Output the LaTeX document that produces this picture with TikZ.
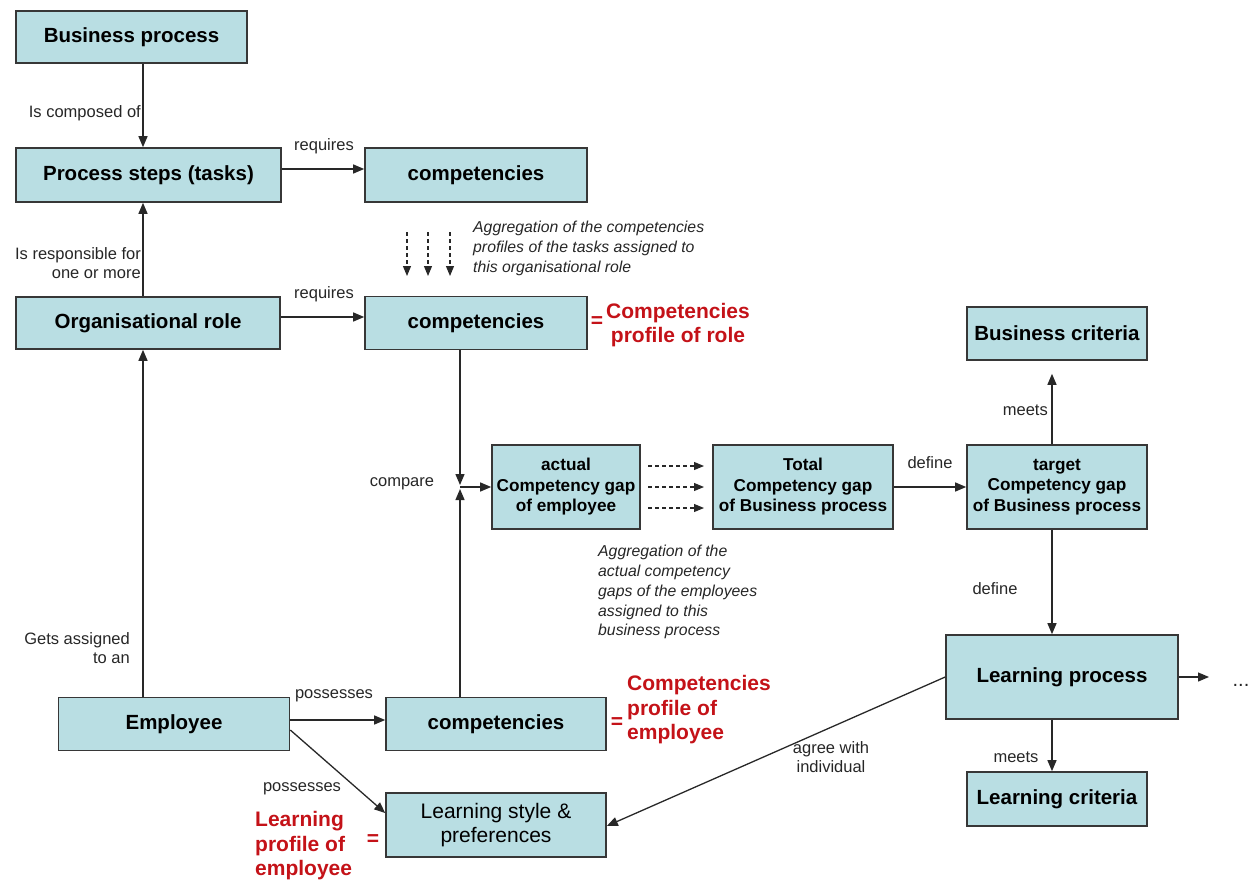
\documentclass[tikz,border=0pt]{standalone}
\usepackage{fontspec}
\setmainfont{Liberation Sans}
\usetikzlibrary{arrows.meta,calc}
\definecolor{boxfill}{RGB}{185,222,227}
\definecolor{boxline}{RGB}{55,55,55}
\definecolor{linecol}{RGB}{40,40,40}
\definecolor{redtxt}{RGB}{196,18,24}
\newcommand\myfs[2]{\fontsize{#1}{#2}\selectfont}
\begin{document}
\begin{tikzpicture}[x=1pt,y=-1pt,
  box/.style={draw=boxline, fill=boxfill, line width=1.6pt, inner sep=0pt, align=center, font=\myfs{20.5}{24}\bfseries, text=black},
  gapbox/.style={box, font=\myfs{17.2}{20.5}\bfseries, minimum width=180, minimum height=84},
  arr/.style={draw=linecol, line width=1.3pt, -{Triangle[length=11pt,width=9pt]}},
  darr/.style={draw=linecol, line width=1.1pt, dash pattern=on 4pt off 3pt, -{Triangle[length=10pt,width=8pt]}},
  lbl/.style={font=\myfs{16.5}{19.5}, text=black!85, inner sep=0pt},
  ital/.style={font=\myfs{15.8}{19.8}\itshape, inner sep=0pt, align=left, text=black!85},
  redlbl/.style={font=\myfs{21}{24.5}\bfseries, text=redtxt, inner sep=0pt}
]
\useasboundingbox (0,0) rectangle (1254,884);

% boxes
\node[box, minimum width=231, minimum height=52] (bp) at (131.5,37) {Business process};
\node[box, minimum width=265, minimum height=54] (ps) at (148.5,175) {Process steps (tasks)};
\node[box, minimum width=222, minimum height=54] (c1) at (476,175) {competencies};
\node[box, minimum width=264, minimum height=52] (orl) at (148,323) {Organisational role};
\node[box, minimum width=222, minimum height=53] (c2) at (476,323) {competencies};
\node[box, minimum width=180, minimum height=53] (bc) at (1057,333.5) {Business criteria};
\node[gapbox, minimum width=148] (act) at (566,487) {actual\\Competency gap\\of employee};
\node[gapbox] (tot) at (803,487) {Total\\Competency gap\\of Business process};
\node[gapbox] (tgt) at (1057,487) {target\\Competency gap\\of Business process};
\node[box, minimum width=232, minimum height=84] (lp) at (1062,677) {Learning process};
\node[box, minimum width=231, minimum height=53] (emp) at (174,724) {Employee};
\node[box, minimum width=220, minimum height=53] (c3) at (496,724) {competencies};
\node[box, minimum width=220, minimum height=64, font=\myfs{21}{24}] (ls) at (496,825) {Learning style \&\\preferences};
\node[box, minimum width=180, minimum height=54] (lc) at (1057,799) {Learning criteria};

% helper coordinates
\coordinate (xL) at (143,0);
\coordinate (xJ) at (460,0);
\coordinate (xR) at (1052,0);
\coordinate (y169) at (0,169);
\coordinate (y317) at (0,317);
\coordinate (y720) at (0,720);
\coordinate (y730) at (0,730);
\coordinate (y813) at (0,813);
\coordinate (y677) at (0,677);
\coordinate (y826) at (0,826);
\coordinate (junc) at (460,487);
\coordinate (dotsend) at (1209,677);

% left column
\draw[arr] (bp.south -| xL) -- (ps.north -| xL);
\node[lbl, anchor=east] (l1) at (141,113) {Is composed of};
\draw[arr] (orl.north -| xL) -- (ps.south -| xL);
\node[lbl, anchor=east, align=right] (l2) at (141,263) {Is responsible for\\one or more};
\draw[arr] (emp.north -| xL) -- (orl.south -| xL);
\node[lbl, anchor=east, align=right] (l3) at (130,648) {Gets assigned\\to an};

% requires
\draw[arr] (ps.east |- y169) -- (c1.west |- y169);
\node[lbl] (l4) at (324,146) {requires};
\draw[arr] (orl.east |- y317) -- (c2.west |- y317);
\node[lbl] (l5) at (324,294) {requires};

% aggregation dashed arrows
\coordinate (da1) at (407,232); \coordinate (db1) at (407,276);
\coordinate (da2) at (428,232); \coordinate (db2) at (428,276);
\coordinate (da3) at (450,232); \coordinate (db3) at (450,276);
\draw[darr] (da1) -- (db1);
\draw[darr] (da2) -- (db2);
\draw[darr] (da3) -- (db3);
\node[ital, anchor=north west] (it1) at (473,221) {Aggregation of the competencies\\profiles of the tasks assigned to\\this organisational role};

% red profile of role
\node[redlbl] (eq1) at (597,322) {=};
\node[redlbl, align=center] (r1) at (678,325) {Competencies\\profile of role};

% compare
\draw[arr] (c2.south -| xJ) -- ($(junc)+(0,-2)$);
\draw[arr] (c3.north -| xJ) -- ($(junc)+(0,2)$);
\draw[arr] (junc) -- (act.west);
\node[lbl] (l6) at (402,484) {compare};

% act -> tot dashed
\coordinate (ea1) at (648,466); \coordinate (eb1) at (704,466);
\coordinate (ea2) at (648,487); \coordinate (eb2) at (704,487);
\coordinate (ea3) at (648,508); \coordinate (eb3) at (704,508);
\draw[darr] (ea1) -- (eb1);
\draw[darr] (ea2) -- (eb2);
\draw[darr] (ea3) -- (eb3);
\node[ital, anchor=north west] (it2) at (598,545) {Aggregation of the\\actual competency\\gaps of the employees\\assigned to this\\business process};

% right column
\draw[arr] (tot.east) -- (tgt.west);
\node[lbl] (l7) at (930,463) {define};
\draw[arr, shorten >=13pt] (tgt.north -| xR) -- (bc.south -| xR);
\node[lbl, anchor=east] (l8) at (1048,410) {meets};
\draw[arr] (tgt.south -| xR) -- (lp.north -| xR);
\node[lbl] (l9) at (995,589) {define};
\draw[arr] (lp.south -| xR) -- (lc.north -| xR);
\node[lbl] (l10) at (1016,757) {meets};
\draw[arr] (lp.east |- y677) -- (dotsend);
\node[lbl, anchor=base, font=\myfs{20}{24}] (dots) at (1241,686) {...};

% employee
\draw[arr] (emp.east |- y720) -- (c3.west |- y720);
\node[lbl] (l11) at (334,696) {possesses};
\draw[arr] (emp.east |- y730) -- (ls.west |- y813);
\node[lbl] (l12) at (302,789) {possesses};
\draw[arr] (lp.west |- y677) -- (ls.east |- y826);
\node[lbl, align=center] (l13) at (831,757) {agree with\\individual};

% red profiles of employee
\node[redlbl] (eq2) at (617,723) {=};
\node[redlbl, anchor=west, align=left] (r2) at (627,710) {Competencies\\profile of\\employee};
\node[redlbl] (eq3) at (373,840) {=};
\node[redlbl, anchor=west, align=left] (r3) at (255,846) {Learning\\profile of\\employee};
\end{tikzpicture}
\end{document}
